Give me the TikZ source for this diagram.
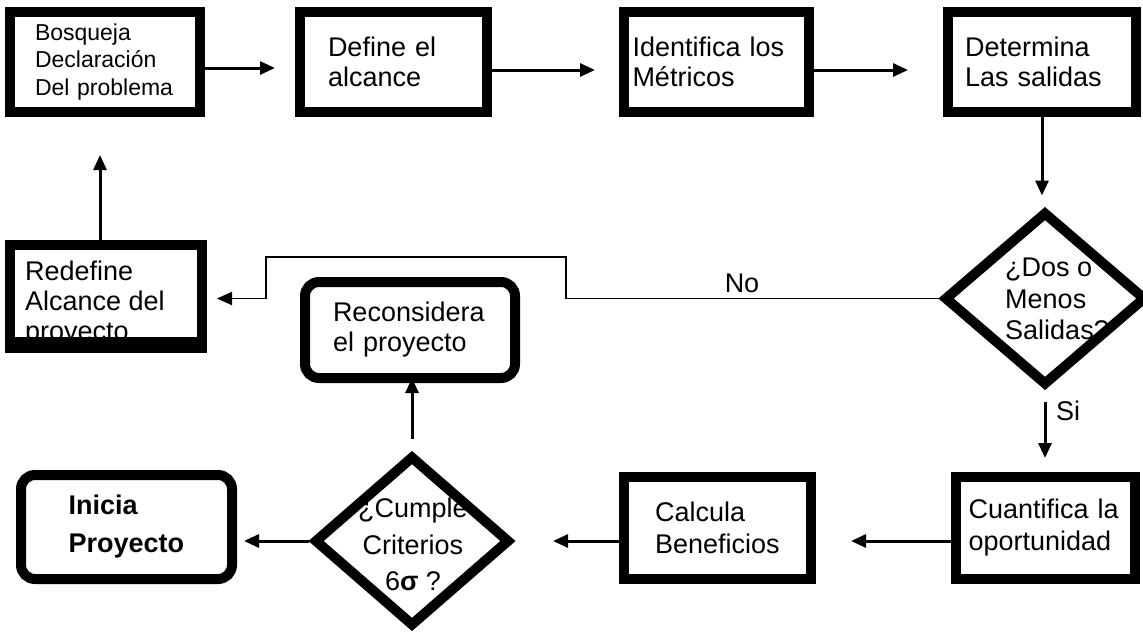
\documentclass[tikz,border=0pt]{standalone}
\usepackage{fontspec}
\setmainfont{Liberation Sans}
\usetikzlibrary{shapes.geometric,arrows.meta}
\begin{document}
\begin{tikzpicture}[x=1pt,y=-1pt,
  heavy/.style={draw, line width=10pt, fill=white, inner sep=0pt, align=left,
                font=\fontsize{27}{30}\selectfont},
  rheavy/.style={heavy, rounded corners=14pt},
  dmd/.style={draw, diamond, line width=10pt, inner sep=0pt, fill=white},
  txt/.style={inner sep=0pt, font=\fontsize{27}{30}\selectfont},
  flow/.style={line width=3pt, -{Triangle[length=15pt,width=13pt]}},
  noflow/.style={line width=1.8pt, -{Triangle[length=15pt,width=13pt]}}
]
\useasboundingbox[fill=white] (0,0) rectangle (1143,637);

% top row
\node[heavy, minimum width=190pt, minimum height=100pt, text width=140pt,
      font=\fontsize{23}{27.5}\selectfont] (b1) at (105,62) {Bosqueja\\Declaración\\Del problema};
\node[heavy, minimum width=187pt, minimum height=100pt, text width=131pt] (b2) at (393.5,62) {Define el\\alcance};
\node[heavy, minimum width=185pt, minimum height=100pt, text width=168pt] (b3) at (716.5,62) {Identifica los\\Métricos};
\node[heavy, minimum width=188pt, minimum height=100pt, text width=154pt] (b4) at (1042,62) {Determina\\Las salidas};

% first decision
\node[dmd, minimum width=202pt, minimum height=174pt] (d1) at (1045,298.5) {};
\node[txt, align=left, font=\fontsize{27}{31.5}\selectfont] (d1txt) at (1057,299) {¿Dos o\\Menos\\Salidas?};

% redefine box, its last line runs under the bottom border
\node[heavy, minimum width=192pt, minimum height=97pt] (red) at (106,293.5) {};
\node[txt, align=left, anchor=north west] (redtxt) at (25,261) {Redefine\\Alcance del\\proyecto};
\draw[line width=12pt] (red.south west) -- (red.south east);

\node[rheavy, minimum width=210pt, minimum height=96pt, text width=154pt] (rec) at (410,330) {Reconsidera\\el proyecto};

% bottom row
\node[heavy, minimum width=179pt, minimum height=102pt, text width=154pt,
      font=\fontsize{27}{32}\selectfont] (cua) at (1045.5,528) {Cuantifica la\\oportunidad};
\node[heavy, minimum width=187pt, minimum height=102pt, text width=125pt,
      font=\fontsize{27}{32}\selectfont] (cal) at (717.5,528) {Calcula\\Beneficios};
\node[dmd, minimum width=196pt, minimum height=171pt] (d2) at (412,541) {};
\node[txt, align=center, font=\fontsize{27}{36.5}\selectfont] (d2txt) at (413,544.5) {¿Cumple\\Criterios\\6\textbf{σ} ?};
\node[rheavy, minimum width=211pt, minimum height=104pt, text width=116pt,
      font=\bfseries\fontsize{27}{38}\selectfont] (ini) at (126.5,527) {Inicia\\Proyecto};

% heavier lower edge of the square boxes
\foreach \n in {b1,b2,b3,b4,cua,cal}
  \draw[line width=4pt] ([yshift=6pt]\n.south west) -- ([yshift=6pt]\n.south east);

% connectors
\draw[flow] ([yshift=-6pt]b1.east) -- ([yshift=-6pt,xshift=-20pt]b2.west);
\draw[flow] ([yshift=-8pt]b2.east) -- ([yshift=-8pt,xshift=-24pt]b3.west);
\draw[flow] ([yshift=-8pt]b3.east) -- ([yshift=-8pt,xshift=-35pt]b4.west);
\draw[flow, shorten >=11pt] (b4.south) -- (b4.south |- d1.north);
\draw[flow, shorten <=11pt, shorten >=14pt] (d1.south) -- (d1.south |- cua.north);
\draw[flow, shorten >=35pt] (cua.west |- d2.east) -- (cal.east |- d2.east);
\draw[flow, shorten >=38pt] (cal.west |- d2.east) -- (d2.east);
\draw[flow] (d2.west) -- ([xshift=7pt]ini.east |- d2.west);
\draw[flow, shorten <=12pt, shorten >=-5pt] (d2.north) -- (d2.north |- rec.south);
\draw[flow, shorten >=38pt] ([xshift=-6pt]red.north) -- ([xshift=-6pt]red.north |- b1.south);

\coordinate (nr) at (566,257);
\coordinate (nl) at (266,257);
\draw[noflow] (d1.west) -| (nr) -- (nl) |- ([xshift=10pt]red.east |- d1.west);

\node[txt] (no) at (742,283) {No};
\node[txt, anchor=west] (si) at (1056,411) {Si};
\end{tikzpicture}
\end{document}
